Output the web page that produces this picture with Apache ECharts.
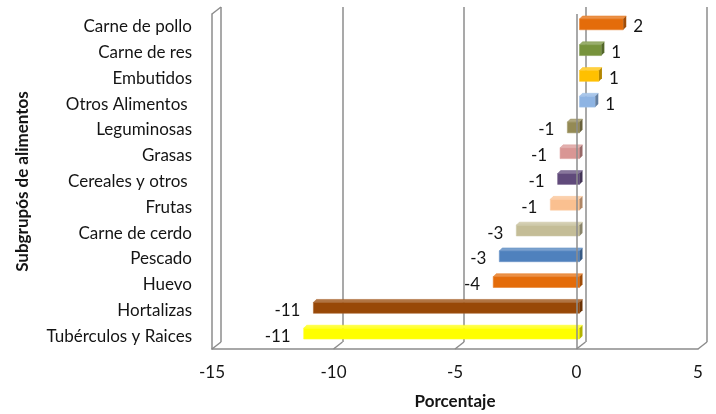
<!DOCTYPE html>
<html>
<head>
<meta charset="utf-8">
<script src="https://cdn.jsdelivr.net/npm/echarts@6/dist/echarts.min.js"></script>
<style>
  html, body { margin: 0; padding: 0; background: #fff; }
  #main { width: 716px; height: 414px; }
</style>
</head>
<body>
<div id="main"></div>
<script>
var myChart = echarts.init(document.getElementById('main'));

// categorias de arriba hacia abajo
var categories = [
    'Carne de pollo', 'Carne de res', 'Embutidos', 'Otros Alimentos ',
    'Leguminosas', 'Grasas', 'Cereales y otros ', 'Frutas',
    'Carne de cerdo', 'Pescado', 'Huevo', 'Hortalizas', 'Tubérculos y Raices'
];
// largo de las barras
var values = [1.8, 0.9, 0.8, 0.65, -0.5, -0.8, -0.9, -1.2, -2.6, -3.3, -3.55, -10.95, -11.35];
// etiquetas que muestra el grafico
var labelValues = [2, 1, 1, 1, -1, -1, -1, -1, -3, -3, -4, -11, -11];
var barColors = [
    '#E46C0A', '#77933C', '#FFC000', '#8EB4E3',
    '#948A54', '#D99694', '#604A7B', '#FAC090',
    '#C4BD97', '#4F81BD', '#E46C0A', '#984807', '#FFFF00'
];
var xTicks = [-15, -10, -5, 0, 5];

var FONT = 'Lato, "Open Sans", sans-serif';
var FS = 17;
var TXT = '#141414';
var GRID_COLOR = '#8c8c8c';

function shade(hex, f) {
    var n = parseInt(hex.slice(1), 16);
    var r = (n >> 16) & 255, g = (n >> 8) & 255, b = n & 255;
    function m(c) {
        var v = f >= 0 ? c + (255 - c) * f : c * (1 + f);
        return Math.max(0, Math.min(255, Math.round(v)));
    }
    return 'rgb(' + m(r) + ',' + m(g) + ',' + m(b) + ')';
}

var barData = [];
for (var i = 0; i < values.length; i++) {
    barData.push([values[i], i, labelValues[i]]);
}
var tickData = [];
for (var j = 0; j < xTicks.length; j++) {
    tickData.push([xTicks[j], 0]);
}

// barra con efecto 3D: cara frontal, superior y lateral
function renderBar(params, api) {
    var v = api.value(0);
    var idx = api.value(1);
    var c0 = api.coord([0, idx]);
    var c1 = api.coord([v, idx]);
    var band = api.size([0, 1])[1];
    var h = band * 0.42;
    var ox = 3, oy = -2.5, d = 3;
    var xl = Math.min(c0[0], c1[0]) + ox;
    var xr = Math.max(c0[0], c1[0]) + ox;
    var yt = c0[1] - h / 2 + oy;
    var yb = yt + h;
    var col = barColors[idx];
    var txt = String(api.value(2));
    var tx = v >= 0 ? xr + 10 : xl - 13;
    return {
        type: 'group',
        children: [
            {
                type: 'polygon',
                shape: { points: [[xl, yt], [xr, yt], [xr + d, yt - d], [xl + d, yt - d]] },
                style: { fill: shade(col, 0.25), stroke: shade(col, 0.1), lineWidth: 0.5 }
            },
            {
                type: 'rect',
                shape: { x: xl, y: yt, width: xr - xl, height: h },
                style: { fill: col, stroke: shade(col, 0.15), lineWidth: 0.6 }
            },
            {
                type: 'polygon',
                shape: { points: [[xr, yt], [xr + d, yt - d], [xr + d, yb - d], [xr, yb]] },
                style: { fill: shade(col, -0.3) }
            },
            {
                type: 'text',
                x: tx,
                y: c0[1],
                style: {
                    text: txt,
                    fill: TXT,
                    font: FS + 'px ' + FONT,
                    align: v >= 0 ? 'left' : 'right',
                    verticalAlign: 'middle',
                    textAlign: v >= 0 ? 'left' : 'right',
                    textVerticalAlign: 'middle'
                }
            }
        ]
    };
}

// diagonales del piso y del muro izquierdo
function renderFloor(params, api) {
    var cs = params.coordSys;
    var x = api.coord([api.value(0), 0])[0];
    var yb = cs.y + cs.height;
    var kids = [{
        type: 'line',
        shape: { x1: x, y1: yb, x2: x + 9, y2: yb - 7 },
        style: { stroke: GRID_COLOR, lineWidth: 1.5 }
    }];
    if (params.dataIndex === 0) {
        kids.push({
            type: 'line',
            shape: { x1: cs.x, y1: cs.y, x2: cs.x + 9, y2: cs.y - 7 },
            style: { stroke: GRID_COLOR, lineWidth: 1.5 }
        });
    }
    return { type: 'group', children: kids };
}

option = {
    backgroundColor: '#fff',
    animation: false,
    grid: [
        { left: 212, right: 18, top: 14, bottom: 65, containLabel: false, outerBoundsMode: 'none' },
        { left: 221, right: 9, top: 7, bottom: 72, containLabel: false, outerBoundsMode: 'none' }
    ],
    xAxis: [
        {
            gridIndex: 0,
            type: 'value',
            min: -15, max: 5, interval: 5,
            axisLine: { show: true, lineStyle: { color: GRID_COLOR, width: 1.5 } },
            axisTick: { show: false },
            splitLine: { show: false },
            axisLabel: { color: TXT, fontSize: FS, fontFamily: FONT, margin: 15 },
            name: 'Porcentaje',
            nameLocation: 'middle',
            nameGap: 44,
            nameTextStyle: { color: TXT, fontSize: FS, fontWeight: 'bold', fontFamily: FONT }
        },
        {
            gridIndex: 1,
            type: 'value',
            min: -15, max: 5, interval: 5,
            axisLine: { show: false },
            axisTick: { show: false },
            axisLabel: { show: false },
            splitLine: { show: true, lineStyle: { color: GRID_COLOR, width: 1.5 } }
        }
    ],
    yAxis: [
        {
            gridIndex: 0,
            type: 'category',
            data: categories,
            inverse: true,
            axisLine: { show: true, onZero: false, lineStyle: { color: GRID_COLOR, width: 1.5 } },
            axisTick: { show: false },
            axisLabel: { color: TXT, fontSize: FS, fontFamily: FONT, margin: 20 },
            name: 'Subgrupós de alimentos',
            nameLocation: 'middle',
            nameRotate: 90,
            nameGap: 181,
            nameTextStyle: { color: TXT, fontSize: FS, fontWeight: 'bold', fontFamily: FONT }
        },
        {
            gridIndex: 1,
            type: 'category',
            data: categories,
            inverse: true,
            show: false
        }
    ],
    series: [
        {
            name: 'piso',
            type: 'custom',
            xAxisIndex: 0,
            yAxisIndex: 0,
            silent: true,
            z: 1,
            renderItem: renderFloor,
            encode: { x: 0, y: 1 },
            data: tickData,
            markLine: {
                silent: true,
                symbol: 'none',
                label: { show: false },
                lineStyle: { color: GRID_COLOR, width: 1.5, type: 'solid' },
                z: 10,
                data: [{ xAxis: 0 }]
            }
        },
        {
            name: 'Subgrupos',
            type: 'custom',
            xAxisIndex: 0,
            yAxisIndex: 0,
            z: 5,
            renderItem: renderBar,
            encode: { x: 0, y: 1 },
            data: barData
        }
    ]
};

myChart.setOption(option);
</script>
</body>
</html>
